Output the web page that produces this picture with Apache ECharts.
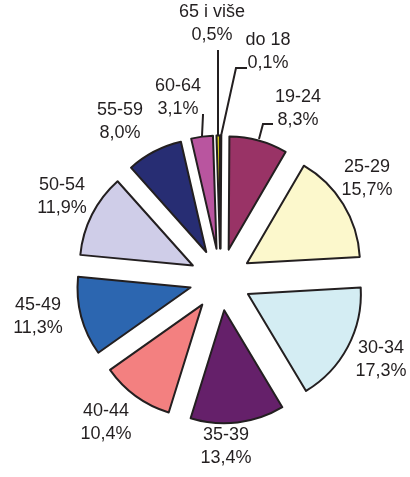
<!DOCTYPE html>
<html>
<head>
<meta charset="utf-8">
<script src="https://cdn.jsdelivr.net/npm/echarts@6/dist/echarts.min.js"></script>
<style>
  html, body { margin: 0; padding: 0; background: #fff; }
  #chart { width: 410px; height: 477px; }
</style>
</head>
<body>
<div id="chart"></div>
<script>
// age groups, clockwise from 12 o'clock
const categories = ['do 18', '19-24', '25-29', '30-34', '35-39', '40-44', '45-49', '50-54', '55-59', '60-64', '65 i više'];
const shares = [0.1, 8.3, 15.7, 17.3, 13.4, 10.4, 11.3, 11.9, 8.0, 3.1, 0.5];
const colors = ['#2a2a2a', '#993366', '#fcf8cc', '#d4edf3', '#65206a', '#f38080', '#2c66b0', '#cfcde8', '#272d73', '#b9559f', '#d2c61c'];

// label placement (text block centres) and leader lines
const labelPos = [[268, 52], [298, 109], [367, 179], [381, 360], [226, 447], [106, 423], [38, 317], [62, 197], [120, 122], [178, 98], [212, 24]];
const leaders = {
  0: [[221, 136], [236, 68], [247, 68]],
  1: [[259, 139], [263, 124], [273, 124]],
  9: [[202, 136], [203, 115], [203, 114]],
  10: [[218, 136], [218, 52], [218, 50]]
};

const ink = '#231f20';
const center = [220.5, 279.5];
const chart = echarts.init(document.getElementById('chart'));

const fmtPct = v => v.toFixed(1).replace('.', ',') + '%';

chart.setOption({
  animation: false,
  series: [
    // exploded sectors
    {
      type: 'pie',
      center: center,
      radius: [0, 113],
      startAngle: 90,
      clockwise: true,
      selectedMode: 'multiple',
      selectedOffset: 31,
      emphasis: { disabled: true },
      itemStyle: { borderColor: ink, borderWidth: 2 },
      label: { show: false },
      labelLine: { show: false },
      data: categories.map((name, i) => ({
        name: name,
        value: shares[i],
        selected: true,
        itemStyle: { color: colors[i] },
        select: { itemStyle: { color: colors[i], borderColor: ink, borderWidth: 2 } }
      }))
    },
    // labels and leader lines
    {
      type: 'pie',
      center: center,
      radius: [0, 113],
      startAngle: 90,
      clockwise: true,
      silent: true,
      z: 3,
      avoidLabelOverlap: false,
      emphasis: { disabled: true },
      itemStyle: { color: 'rgba(0,0,0,0)', borderWidth: 0 },
      label: {
        show: true,
        position: 'outside',
        fontFamily: 'Liberation Sans, Arial, sans-serif',
        fontSize: 18,
        lineHeight: 23,
        color: ink,
        formatter: p => p.name + '\n' + fmtPct(p.value)
      },
      labelLine: {
        show: true,
        lineStyle: { color: ink, width: 2 }
      },
      labelLayout: function (params) {
        const i = params.dataIndex;
        const out = {
          x: labelPos[i][0],
          y: labelPos[i][1],
          align: 'center',
          verticalAlign: 'middle'
        };
        if (leaders[i]) out.labelLinePoints = leaders[i];
        return out;
      },
      data: categories.map((name, i) => ({
        name: name,
        value: shares[i],
        labelLine: { show: leaders[i] !== undefined }
      }))
    }
  ]
});

window.addEventListener('resize', () => chart.resize());
</script>
</body>
</html>
